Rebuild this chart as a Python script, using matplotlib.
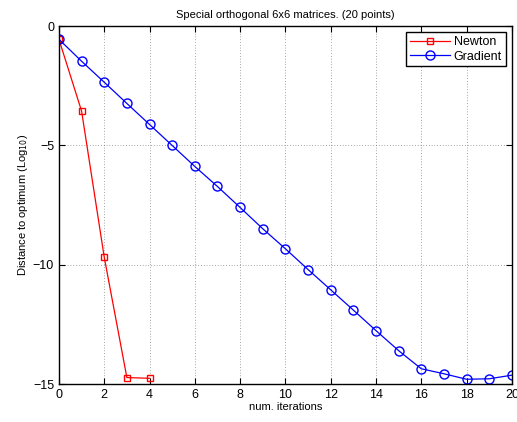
import matplotlib
matplotlib.use("Agg")
import matplotlib.pyplot as plt

plt.rcParams['font.family'] = ['Liberation Sans', 'DejaVu Sans']

# log10 distance to optimum per iteration
newton_iter = [0, 1, 2, 3, 4]
newton_dist = [-0.55, -3.56, -9.68, -14.73, -14.76]

grad_iter = list(range(21))
grad_dist = [-0.55, -1.47, -2.35, -3.24, -4.12, -5.0, -5.88, -6.72, -7.6, -8.49,
             -9.33, -10.2, -11.05, -11.9, -12.76, -13.6, -14.36, -14.57, -14.8,
             -14.78, -14.63]

fig = plt.figure(figsize=(5.17, 4.22), dpi=100)
ax = fig.add_axes([0.114, 0.090, 0.876, 0.848])

ax.plot(newton_iter, newton_dist, color='red', marker='s', markersize=5,
        markerfacecolor='none', markeredgecolor='red', linewidth=0.9, label='Newton')
ax.plot(grad_iter, grad_dist, color='blue', marker='o', markersize=6.5,
        markerfacecolor='none', markeredgecolor='blue', linewidth=0.9, label='Gradient')

ax.set_xlim(0, 20)
ax.set_ylim(-15, 0)
ax.set_xticks(range(0, 21, 2))
ax.set_yticks([-15, -10, -5, 0])
ax.grid(True, linestyle=(0, (1, 3)), color='#555555', linewidth=0.5)
ax.tick_params(direction='in', top=True, right=True, labelsize=9, length=4)
for s in ax.spines.values():
    s.set_linewidth(1.0)

ax.set_title('Special orthogonal 6x6 matrices. (20 points)', fontsize=8)
ax.set_xlabel('num. iterations', fontsize=8, labelpad=1)
ax.set_ylabel('Distance to optimum (Log$_{10}$)', fontsize=8, labelpad=2)

leg = ax.legend(loc='upper right', fontsize=9, fancybox=False, framealpha=1,
                edgecolor='black', borderaxespad=0.5, handlelength=3.2,
                handletextpad=0.3, borderpad=0.3, labelspacing=0.2)
leg.get_frame().set_linewidth(1.0)

fig.savefig('out.png', dpi=100)
